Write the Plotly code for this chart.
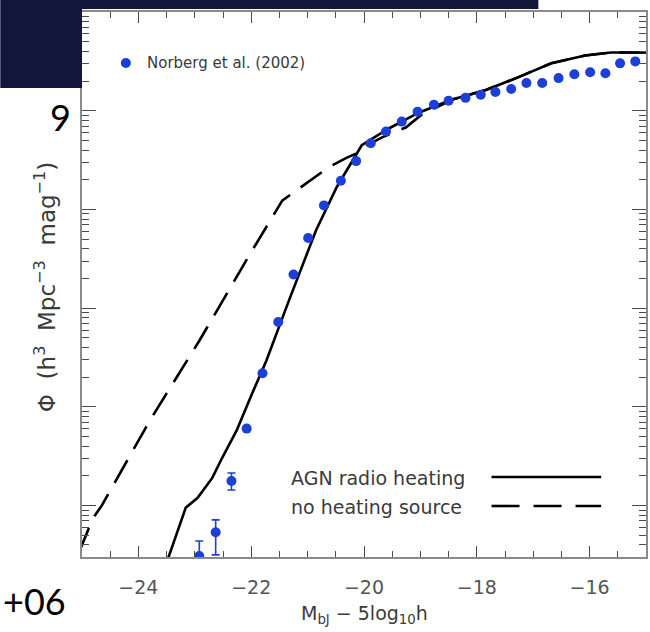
import plotly.graph_objects as go

# Norberg et al. (2002) bJ-band luminosity function
norberg_mag = [-22.92, -22.63, -22.35, -22.08, -21.80, -21.52, -21.25, -20.99, -20.71,
               -20.41, -20.14, -19.88, -19.61, -19.33, -19.05, -18.76, -18.50, -18.20,
               -17.93, -17.67, -17.39, -17.12, -16.84, -16.55, -16.27, -15.99, -15.72,
               -15.46, -15.19]
norberg_phi = [3.09e-7, 5.37e-7, 1.78e-6, 6.03e-6, 2.19e-5, 7.24e-5, 2.19e-4, 5.13e-4,
               1.10e-3, 1.95e-3, 3.09e-3, 4.68e-3, 6.17e-3, 7.76e-3, 9.77e-3, 1.15e-2,
               1.26e-2, 1.35e-2, 1.45e-2, 1.55e-2, 1.66e-2, 1.91e-2, 1.91e-2, 2.14e-2,
               2.34e-2, 2.45e-2, 2.40e-2, 3.02e-2, 3.16e-2]
norberg_err_hi = [1.3e-7, 1.8e-7, 3.6e-7] + [0.0] * 26
norberg_err_lo = [1.5e-7, 2.2e-7, 3.4e-7] + [0.0] * 26

# Model: AGN radio heating
agn_mag = [-23.52, -23.16, -22.95, -22.69, -22.51, -22.26, -21.98, -21.73, -21.33,
           -20.85, -20.48, -20.04, -19.56, -19.03, -18.45, -17.84, -17.26, -16.68,
           -16.08, -15.62, -15.00]
agn_phi = [2.45e-7, 9.55e-7, 1.20e-6, 1.91e-6, 3.09e-6, 5.75e-6, 1.38e-5, 2.95e-5,
           1.20e-4, 6.17e-4, 1.70e-3, 4.47e-3, 6.61e-3, 9.55e-3, 1.29e-2, 1.62e-2,
           2.19e-2, 3.02e-2, 3.63e-2, 3.89e-2, 3.89e-2]

# Model: no heating source
noheat_mag = [-25.05, -24.81, -24.65, -24.42, -23.80, -22.92, -22.03, -21.45, -21.20,
              -20.88, -20.62, -20.32, -20.09, -19.95, -19.68, -19.26, -18.98, -18.73,
              -18.45, -17.84, -17.26, -16.68, -16.08, -15.62, -15.00]
noheat_phi = [3.39e-7, 7.41e-7, 1.00e-6, 1.70e-6, 7.24e-6, 4.68e-5, 3.47e-4, 1.23e-3,
              1.55e-3, 2.09e-3, 2.69e-3, 3.31e-3, 3.80e-3, 4.47e-3, 5.37e-3, 6.76e-3,
              9.12e-3, 1.07e-2, 1.29e-2, 1.62e-2, 2.19e-2, 3.02e-2, 3.63e-2, 3.89e-2,
              3.89e-2]

x_ticks = [-24, -22, -20, -18, -16]
x_tick_text = ["\u221224", "\u221222", "\u221220", "\u221218", "\u221216"]

W, H = 650, 632
L, R, T, B = 82, 2, 12, 75
PW, PH = W - L - R, H - T - B


def px(x):
    return (x - L) / PW


def py(y):
    return 1 - (y - T) / PH


BLUE = "#1c3fd8"
TXT = "#3a3a3a"
FONT = "DejaVu Sans"
DASH = "26px,13px"
SP = "&nbsp;&nbsp;"

fig = go.Figure()

fig.add_trace(go.Scatter(
    x=noheat_mag, y=noheat_phi, mode="lines",
    line=dict(color="black", width=2.6, dash=DASH),
    showlegend=False, cliponaxis=True))
fig.add_trace(go.Scatter(
    x=agn_mag, y=agn_phi, mode="lines",
    line=dict(color="black", width=2.6),
    showlegend=False, cliponaxis=True))
fig.add_trace(go.Scatter(
    x=norberg_mag, y=norberg_phi, mode="markers",
    marker=dict(color=BLUE, size=10),
    error_y=dict(type="data", symmetric=False, array=norberg_err_hi,
                 arrayminus=norberg_err_lo, color=BLUE, thickness=1.6, width=4),
    showlegend=False, cliponaxis=True))

axis_common = dict(showline=True, linecolor="#8a8a8a", linewidth=2, mirror="allticks",
                   ticks="inside", tickcolor="#4a4a4a", tickwidth=1.3,
                   showgrid=False, zeroline=False)

fig.update_xaxes(range=[-25, -15], tickvals=x_ticks, ticktext=x_tick_text, ticklen=11,
                 tickfont=dict(family=FONT, size=19, color="#555"), ticklabelstandoff=12,
                 minor=dict(ticks="inside", dtick=0.5, ticklen=6, tickcolor="#4a4a4a",
                            tickwidth=1.2, showgrid=False),
                 **axis_common)
fig.update_yaxes(type="log", range=[-6.52, -1], dtick=1, ticklen=14, showticklabels=False,
                 minor=dict(ticks="inside", dtick="D1", ticklen=7, tickcolor="#4a4a4a",
                            tickwidth=1.2, showgrid=False),
                 **axis_common)

annotations = [
    dict(text="\u03a6" + SP + "(h<sup>3</sup>" + SP + "Mpc<sup>\u22123</sup>" + SP
         + "mag<sup>\u22121</sup>)",
         x=px(45), y=py(287), textangle=-90, font=dict(family=FONT, size=23, color=TXT)),
    dict(text="M<sub>bJ</sub> \u2212 5log<sub>10</sub>h", x=px(366), y=py(614),
         font=dict(family=FONT, size=19, color=TXT)),
    dict(text="Norberg et al. (2002)", x=px(145), y=py(63), xanchor="left",
         font=dict(family=FONT, size=15, color=TXT)),
    dict(text="AGN radio heating", x=px(290), y=py(478), xanchor="left",
         font=dict(family=FONT, size=19, color=TXT)),
    dict(text="no heating source", x=px(290), y=py(507), xanchor="left",
         font=dict(family=FONT, size=19, color=TXT)),
    dict(text="9", x=px(60), y=py(117), font=dict(family="Lato", size=36, color="black")),
    dict(text="+06", x=px(34), y=py(601), font=dict(family="Lato", size=36, color="black")),
]
for a in annotations:
    a.update(xref="paper", yref="paper", showarrow=False)
    a.setdefault("xanchor", "center")
    a.setdefault("yanchor", "middle")

shapes = [
    # dark slide background pieces
    dict(type="rect", x0=px(0), x1=px(L), y0=py(88), y1=py(0),
         fillcolor="#12163a", line=dict(width=0), layer="above"),
    dict(type="rect", x0=px(L), x1=px(540), y0=py(9), y1=py(0),
         fillcolor="#12163a", line=dict(width=0), layer="above"),
    # legend keys
    dict(type="circle", xsizemode="pixel", ysizemode="pixel", xanchor=px(126), yanchor=py(63),
         x0=-5, x1=5, y0=-5, y1=5, fillcolor=BLUE, line=dict(width=0)),
    dict(type="line", x0=px(493), x1=px(603), y0=py(477), y1=py(477),
         line=dict(color="black", width=2.6)),
    dict(type="line", x0=px(493), x1=px(603), y0=py(506), y1=py(506),
         line=dict(color="black", width=2.6, dash="28px,14px")),
]
for s in shapes:
    s.update(xref="paper", yref="paper")

fig.update_layout(width=W, height=H, margin=dict(l=L, r=R, t=T, b=B),
                  paper_bgcolor="white", plot_bgcolor="white",
                  annotations=annotations, shapes=shapes, showlegend=False)

fig.write_html("out.html")
